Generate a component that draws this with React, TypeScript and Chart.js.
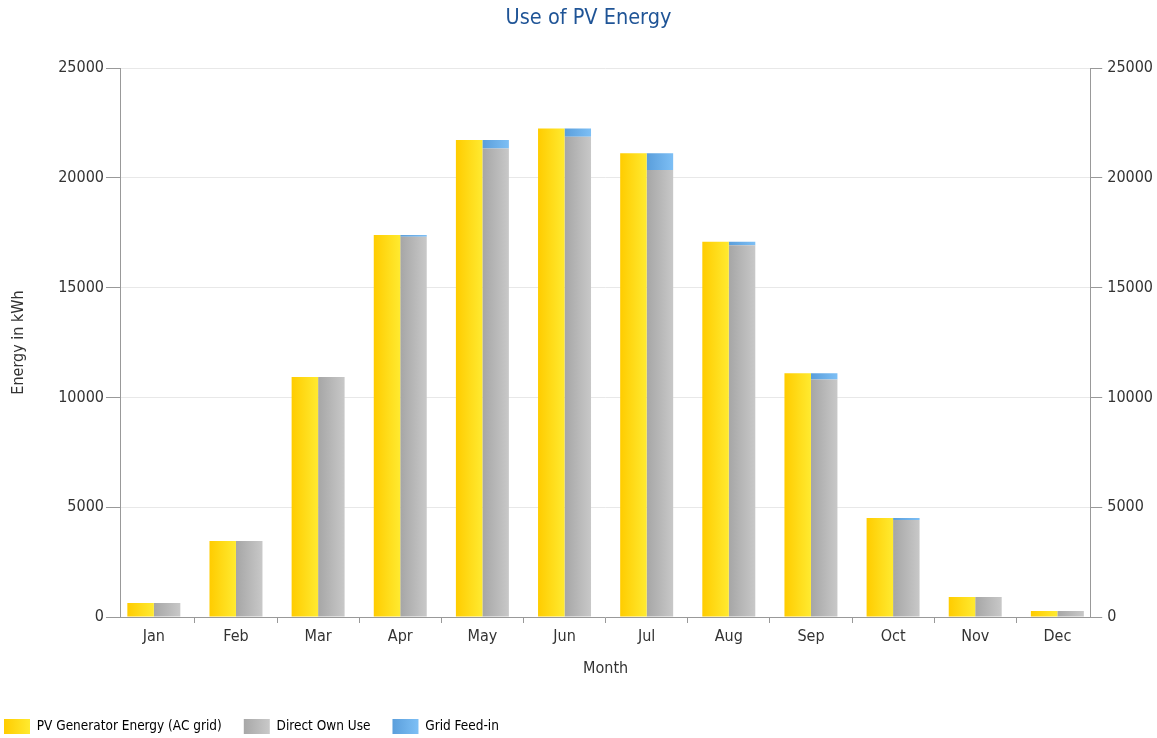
import React, { useEffect, useRef } from "react";
import { Chart, registerables } from "chart.js";

Chart.register(...registerables);

const months = ["Jan", "Feb", "Mar", "Apr", "May", "Jun", "Jul", "Aug", "Sep", "Oct", "Nov", "Dec"];
const pvGenerator = [640, 3460, 10930, 17390, 21720, 22250, 21120, 17090, 11100, 4510, 910, 270];
const directOwnUse = [640, 3460, 10930, 17320, 21330, 21870, 20360, 16930, 10820, 4420, 910, 270];
const gridFeedIn = [0, 0, 0, 70, 390, 380, 760, 160, 280, 90, 0, 0];
const yTicks = [0, 5000, 10000, 15000, 20000, 25000];

const FONT = "'DejaVu Sans Condensed', 'DejaVu Sans', sans-serif";
const CAT_PCT = 0.645;

const toPoints = (arr: number[]) => arr.map((v, i) => ({ x: i, y: v }));

function barGradient(c: any, side: number, c1: string, c2: string) {
  const chart = c.chart;
  const xs = chart.scales && chart.scales.x;
  if (!xs || c.dataIndex === undefined || c.type !== "data") return c1;
  const unit = xs.getPixelForValue(1) - xs.getPixelForValue(0);
  const bw = (unit * CAT_PCT) / 2;
  const center = xs.getPixelForValue(c.dataIndex) + (side * bw) / 2;
  const g = chart.ctx.createLinearGradient(center - bw / 2, 0, center + bw / 2, 0);
  g.addColorStop(0, c1);
  g.addColorStop(1, c2);
  return g;
}

const boxShift = {
  id: "boxShift",
  afterLayout(chart: any) {
    const l = chart.legend;
    if (l) {
      l.left -= 27;
      l.right -= 27;
      l.top += 6;
      l.bottom += 6;
    }
    const t = chart.titleBlock;
    if (t) {
      t.left += 5;
      t.right += 5;
    }
  },
};

export default function App() {
  const ref = useRef<HTMLCanvasElement>(null);
  useEffect(() => {
    document.body.style.margin = "0";
    const canvas = ref.current!;
    const ctx = canvas.getContext("2d")!;
    const mkLegendGrad = (x0: number, c1: string, c2: string) => {
      const g = ctx.createLinearGradient(x0, 0, x0 + 26, 0);
      g.addColorStop(0, c1);
      g.addColorStop(1, c2);
      return g;
    };
    const tickFmt = (v: any) => String(v);
    const chart = new Chart(canvas, {
      type: "bar",
      data: {
        labels: months,
        datasets: [
          {
            label: "PV Generator Energy (AC grid)",
            data: toPoints(pvGenerator),
            stack: "a",
            backgroundColor: (c: any) => barGradient(c, -1, "#FFCC00", "#FFEA30"),
            borderWidth: 0,
          },
          {
            label: "Direct Own Use",
            data: toPoints(directOwnUse),
            stack: "b",
            backgroundColor: (c: any) => barGradient(c, 1, "#A6A6A6", "#C8C8C8"),
            borderWidth: 0,
          },
          {
            label: "Grid Feed-in",
            data: toPoints(gridFeedIn),
            stack: "b",
            backgroundColor: (c: any) => barGradient(c, 1, "#5A9EDB", "#7DBFF5"),
            borderWidth: 0,
          },
        ],
      },
      options: {
        animation: false,
        responsive: false,
        maintainAspectRatio: false,
        datasets: { bar: { categoryPercentage: CAT_PCT, barPercentage: 1 } },
        layout: { padding: { left: 9, right: -1, top: 0, bottom: 0 } },
        plugins: {
          title: {
            display: true,
            text: "Use of PV Energy",
            color: "#1F5496",
            font: { family: FONT, size: 21.5, weight: "normal" },
            padding: { top: 6, bottom: 36.2 },
          },
          legend: {
            position: "bottom",
            align: "start",
            labels: {
              boxWidth: 26,
              boxHeight: 15,
              padding: 22,
              color: "#333",
              font: { family: FONT, size: 13.5 },
              generateLabels: () => [
                { text: "PV Generator Energy (AC grid)", fillStyle: mkLegendGrad(4, "#FFCC00", "#FFEA30"), strokeStyle: "rgba(0,0,0,0)", lineWidth: 0, datasetIndex: 0, hidden: false },
                { text: "Direct Own Use", fillStyle: mkLegendGrad(243, "#A6A6A6", "#C8C8C8"), strokeStyle: "rgba(0,0,0,0)", lineWidth: 0, datasetIndex: 1, hidden: false },
                { text: "Grid Feed-in", fillStyle: mkLegendGrad(392, "#5A9EDB", "#7DBFF5"), strokeStyle: "rgba(0,0,0,0)", lineWidth: 0, datasetIndex: 2, hidden: false },
              ] as any,
            },
          },
          tooltip: { enabled: false },
        },
        scales: {
          x: {
            type: "linear",
            stacked: true,
            offset: false,
            min: -0.4,
            max: 11.4,
            afterBuildTicks: (s: any) => { s.ticks = months.map((_, i) => ({ value: i })); },
            grid: { display: true, drawOnChartArea: false, drawTicks: true, tickLength: 6, color: "#999" },
            border: { color: "#999" },
            ticks: { color: "#333", font: { family: FONT, size: 16 }, padding: 4, autoSkip: false, maxRotation: 0, callback: (v: any) => months[Math.round(Number(v))] },
            title: { display: true, text: "Month", color: "#333", font: { family: FONT, size: 16 }, padding: { top: 9, bottom: 12.6 } },
          },
          y: {
            stacked: true,
            position: "left",
            min: 0,
            max: 25000,
            afterBuildTicks: (s: any) => { s.ticks = yTicks.map((v) => ({ value: v })); },
            grid: { color: "#E8E8E8", tickColor: "#999", tickLength: 15, drawTicks: true },
            border: { color: "#999" },
            ticks: { color: "#333", font: { family: FONT, size: 16 }, padding: 2, callback: tickFmt },
            title: { display: true, text: "Energy in kWh", color: "#333", font: { family: FONT, size: 16 }, padding: { top: 0, bottom: 28 } },
          },
          y2: {
            position: "right",
            min: 0,
            max: 25000,
            afterBuildTicks: (s: any) => { s.ticks = yTicks.map((v) => ({ value: v })); },
            grid: { drawOnChartArea: false, tickColor: "#999", tickLength: 12 },
            border: { color: "#999" },
            ticks: { color: "#333", font: { family: FONT, size: 16 }, padding: 5, callback: tickFmt },
          },
        },
      },
      plugins: [boxShift],
    } as any);
    return () => chart.destroy();
  }, []);
  return <canvas ref={ref} width={1157} height={738} style={{ display: "block" }} />;
}
